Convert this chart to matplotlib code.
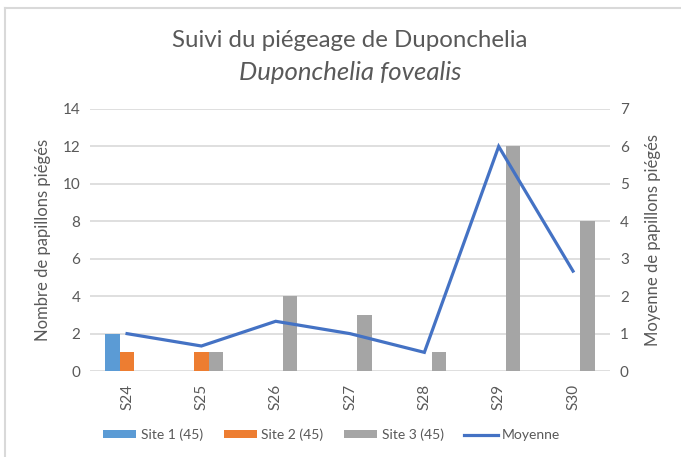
import numpy as np
import matplotlib
matplotlib.use("Agg")
import matplotlib.pyplot as plt
from matplotlib.lines import Line2D

# Donnees du piegeage
semaines = ['S24', 'S25', 'S26', 'S27', 'S28', 'S29', 'S30']
site1 = [2, 0, 0, 0, 0, 0, 0]
site2 = [1, 1, 0, 0, 0, 0, 0]
site3 = [0, 1, 4, 3, 1, 12, 8]
moyenne = [1.0, 0.67, 1.33, 1.0, 0.5, 6.0, 2.67]

gris_texte = '#595959'
plt.rcParams['font.family'] = ['Lato', 'DejaVu Sans']

fig = plt.figure(figsize=(6.81, 4.57), dpi=100)
ax = fig.add_axes([0.132, 0.188, 0.764, 0.5735])
ax2 = ax.twinx()

x = np.arange(len(semaines))
w = 0.195
ax.bar(x - w, site1, w, color='#5B9BD5', label='Site 1 (45)', zorder=3)
ax.bar(x, site2, w, color='#ED7D31', label='Site 2 (45)', zorder=3)
ax.bar(x + w, site3, w, color='#A5A5A5', label='Site 3 (45)', zorder=3)
ax2.plot(x, moyenne, color='#4472C4', lw=2.3, label='Moyenne', zorder=4,
         solid_joinstyle='miter')

ax.set_xlim(-0.5, len(semaines) - 0.5)
ax.set_ylim(0, 14)
ax.set_yticks(range(0, 15, 2))
ax2.set_ylim(0, 7)
ax2.set_yticks(range(0, 8))

ax.set_xticks(x)
ax.set_xticklabels(semaines, rotation=90)
ax.yaxis.grid(True, color='#d9d9d9', lw=1.2, zorder=0)
ax.set_axisbelow(True)

for a in (ax, ax2):
    for s in a.spines.values():
        s.set_visible(False)
    a.tick_params(length=0, labelsize=11, labelcolor=gris_texte, pad=7)
ax.tick_params(axis='x', pad=9)

ax.set_ylabel('Nombre de papillons piégés', fontsize=12, color=gris_texte, labelpad=8)
ax2.set_ylabel('Moyenne de papillons piégés', fontsize=12, color=gris_texte, labelpad=12)

fig.text(0.514, 0.912, 'Suivi du piégeage de Duponchelia', ha='center', va='center',
         fontsize=17.3, color=gris_texte)
fig.text(0.514, 0.842, 'Duponchelia fovealis', ha='center', va='center',
         fontsize=18.5, color=gris_texte, style='italic')

h1, l1 = ax.get_legend_handles_labels()
h2, l2 = ax2.get_legend_handles_labels()
fig.legend(h1 + h2, l1 + l2, loc='center', bbox_to_anchor=(0.487, 0.048), ncol=4,
           frameon=False, fontsize=10, labelcolor=gris_texte, handlelength=2.4,
           handleheight=0.5, handletextpad=0.3, columnspacing=1.5)

# bordure du graphique
fig.add_artist(Line2D([0.008, 0.008], [0.0, 0.982], color='#d9d9d9', lw=1.5))
fig.add_artist(Line2D([0.008, 1.0], [0.982, 0.982], color='#d9d9d9', lw=1.5))

fig.savefig('out.png', dpi=100)
